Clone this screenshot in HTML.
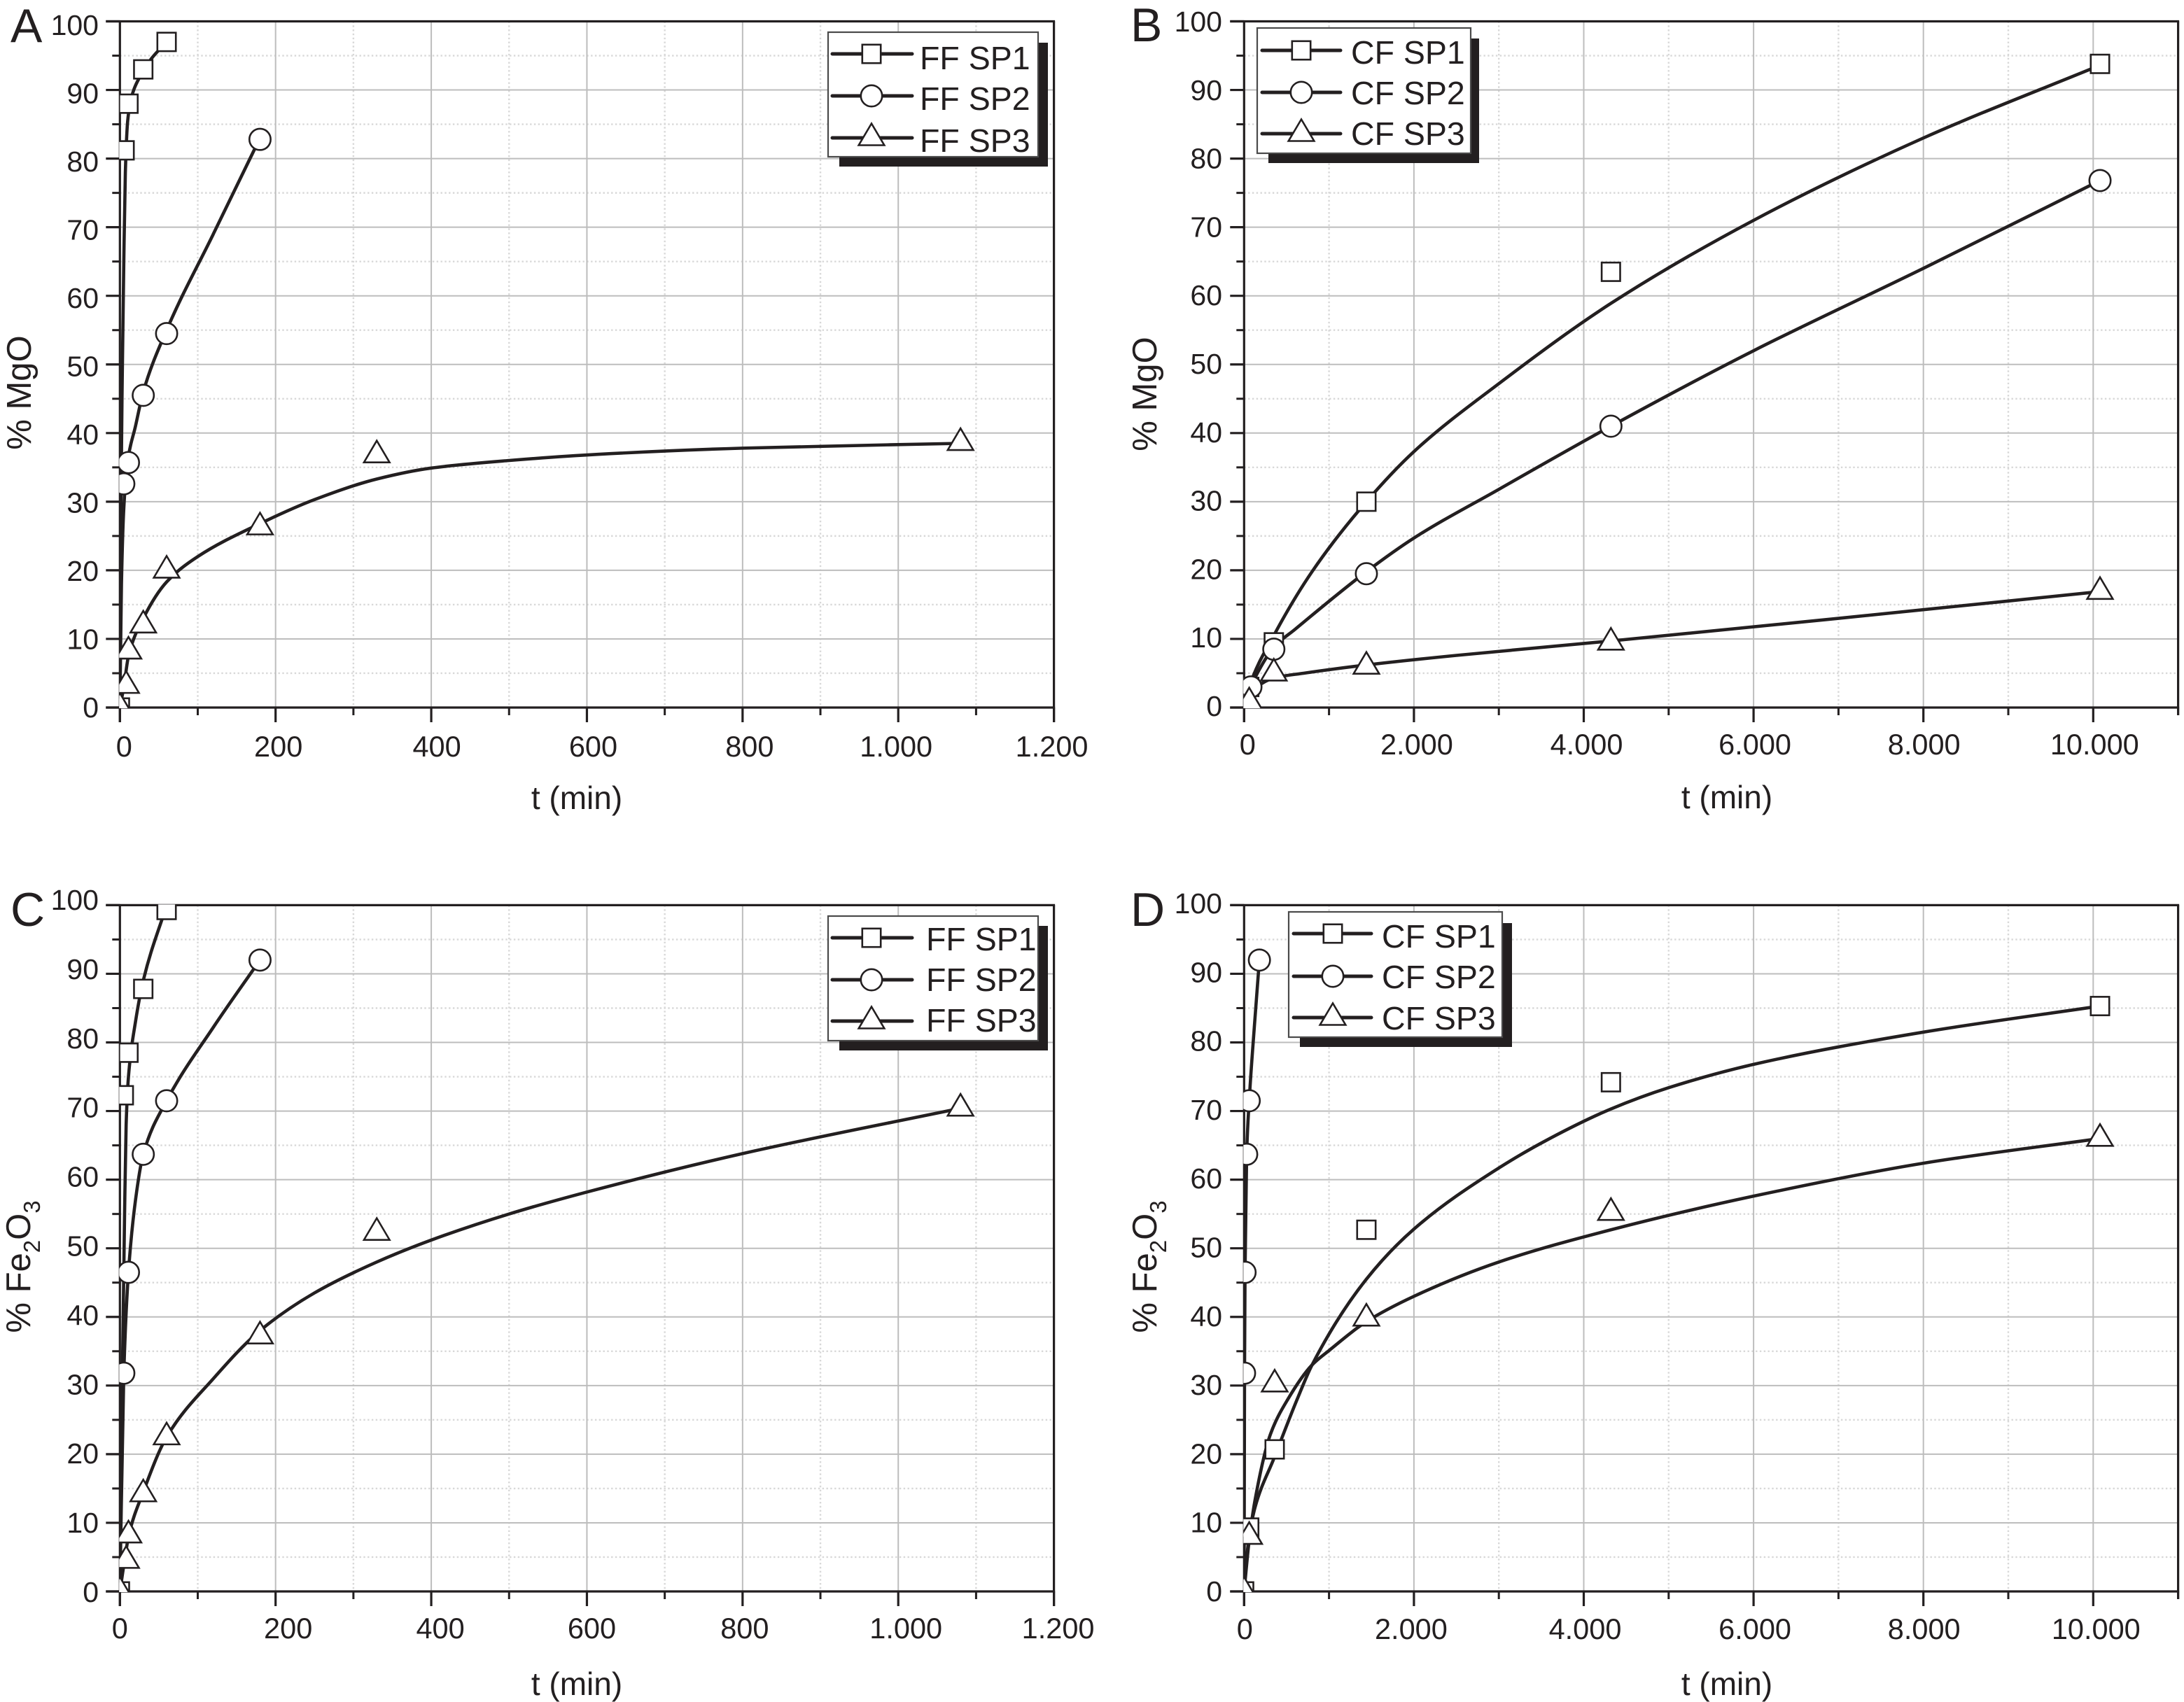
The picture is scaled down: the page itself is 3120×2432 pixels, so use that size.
<!DOCTYPE html>
<html lang="en">
<head>
<meta charset="utf-8">
<title>MgO and Fe2O3 extraction over time</title>
<style>
html,body{margin:0;padding:0;background:#fff;width:3120px;height:2432px;overflow:hidden}
svg{display:block;font-family:"Liberation Sans",Arial,sans-serif}
</style>
</head>
<body>
<svg id="figure" xmlns="http://www.w3.org/2000/svg" width="3120" height="2432" viewBox="0 0 3120 2432"></svg>
<script>
// ---------- shared axis data ----------
const yMajorTicks = [0,10,20,30,40,50,60,70,80,90,100];
const yMinorTicks = [5,15,25,35,45,55,65,75,85,95];
const ffXMajorTicks = [0,200,400,600,800,1000,1200];
const ffXMinorTicks = [100,300,500,700,900,1100];
const ffXTickLabels = ['0','200','400','600','800','1.000','1.200'];
const cfXMajorTicks = [0,2000,4000,6000,8000,10000];
const cfXMinorTicks = [1000,3000,5000,7000,9000,11000];
const cfXTickLabels = ['0','2.000','4.000','6.000','8.000','10.000'];

// ---------- panel A : FF, MgO ----------
const aSp1MarkT = [0,6,11,30,60];
const aSp1MarkY = [0,81.2,88,93,97];
const aSp1FitT = [0,1,3,5,7,10,15,26,40,60];
const aSp1FitY = [0,25,48,65,78,85.5,89,92,94.5,97];
const aSp2MarkT = [5,11,30,60,180];
const aSp2MarkY = [32.6,35.7,45.5,54.5,82.8];
const aSp2FitT = [0,2,5,10,20,30,60,120,180];
const aSp2FitY = [0,18,29,36,41,46,55,69,83];
const aSp3MarkT = [0,8,11,30,60,180,330,1080];
const aSp3MarkY = [0,3.2,8.2,12,20,26.3,36.8,38.6];
const aSp3FitT = [0,5,11,30,60,100,180,250,330,400,500,614,800,1080];
const aSp3FitY = [0,3,7.5,13,18.3,22,26.8,30.3,33.3,34.9,36,36.9,37.8,38.5];

// ---------- panel B : CF, MgO ----------
const bSp1MarkT = [60,350,1440,4320,10080];
const bSp1MarkY = [3,9.5,30,63.5,93.8];
const bSp1FitT = [0,60,350,800,1440,2000,3000,4320,6000,8000,10080];
const bSp1FitY = [0,3,10.5,19.8,30,37.3,47.2,58.9,71,83,93.6];
const bSp2MarkT = [80,350,1440,4320,10080];
const bSp2MarkY = [3,8.5,19.5,41,76.8];
const bSp2FitT = [0,80,200,350,600,1440,2000,3000,4320,6000,8000,10080];
const bSp2FitY = [0,3,6,8.8,11.4,19.8,24.7,31.8,41,52,64,76.8];
const bSp3MarkT = [60,350,1440,4320,10080];
const bSp3MarkY = [0.8,5,6,9.5,16.9];
const bSp3FitT = [0,60,150,350,700,1440,2500,4320,7000,10080];
const bSp3FitY = [0,1.5,3,4.3,5,6.2,7.6,9.7,13,16.9];

// ---------- panel C : FF, Fe2O3 ----------
const cSp1MarkT = [0,5,11,30,60];
const cSp1MarkY = [0,72.3,78.5,87.8,99.3];
const cSp1FitT = [0,3,6,8,11,20,30,60];
const cSp1FitY = [0,30,55,68,75,83,89,100];
const cSp2MarkT = [5,11,30,60,180];
const cSp2MarkY = [31.8,46.5,63.7,71.5,92];
const cSp2FitT = [0,5,11,20,30,60,120,180];
const cSp2FitY = [0,31.8,46.5,57,63.7,71.5,82.2,92];
const cSp3MarkT = [0,8,11,30,60,180,330,1080];
const cSp3MarkY = [0,4.5,8.2,14.2,22.5,37.2,52.3,70.4];
const cSp3FitT = [0,8,11,30,60,120,180,250,330,400,500,600,800,1080];
const cSp3FitY = [0,6,8,14.5,22.5,31,38,43.5,48,51.2,55,58.2,63.8,70.4];

// ---------- panel D : CF, Fe2O3 ----------
const dSp1MarkT = [0,60,360,1440,4320,10080];
const dSp1MarkY = [0,9.3,20.7,52.7,74.2,85.3];
const dSp1FitT = [0,20,60,130,355,625,800,1440,2000,3000,3600,4320,5000,6000,8000,10080];
const dSp1FitY = [0,3.5,8,12.3,19.5,28,33,45.5,52.8,61.7,66,70.3,73.4,76.8,81.5,85.3];
const dSp2MarkT = [5,11,30,60,180];
const dSp2MarkY = [31.8,46.5,63.7,71.5,92];
const dSp2FitT = [0,5,11,30,60,120,180];
const dSp2FitY = [0,31.8,46.5,63.7,71.5,82.2,92];
const dSp3MarkT = [0,60,360,1440,4320,10080];
const dSp3MarkY = [0,8,30.2,39.8,55.2,66];
const dSp3FitT = [0,60,130,310,515,800,1000,1440,2000,3000,4320,6000,8000,10080];
const dSp3FitY = [0,7.5,13.4,22.9,28,33,35.1,39.3,43,48,52.7,57.6,62.4,66];

// ---------- layout ----------
const INK = '#231f20';
const panels = [
 {id:'a',letter:'A',letterX:15,letterY:60,x0:171.3,x1:1505.6,yTop:30.5,yBottom:1011,xMax:1200,
  xMajor:ffXMajorTicks,xMinor:ffXMinorTicks,xLabels:ffXTickLabels,xNudge:[6,4,8,9,10,-3,-3],xLabelY:1081,
  yLabelX:141,yLabelBase:1025,yLabelStep:9.75,lastMajor:true,
  titleX:824,titleY:1156,yTitleX:44,yTitleC:561,yTitle:'mgo',
  sp1:[aSp1MarkT,aSp1MarkY,aSp1FitT,aSp1FitY],sp2:[aSp2MarkT,aSp2MarkY,aSp2FitT,aSp2FitY],sp3:[aSp3MarkT,aSp3MarkY,aSp3FitT,aSp3FitY],
  legend:{x:1183,y:46,w:300,h:178,sx:1199,sy:61,sr:1497,sb:238,lx0:1189,lx1:1303,mx:1245,tx:1314,ly:[77,137,197],ty:[99,157,217],names:['FF SP1','FF SP2','FF SP3']}},
 {id:'b',letter:'B',letterX:1615,letterY:59,x0:1777.3,x1:3111.6,yTop:30.5,yBottom:1011,xMax:11000,
  xMajor:cfXMajorTicks,xMinor:cfXMinorTicks,xLabels:cfXTickLabels,xNudge:[5,4,4,2,1,2],xLabelY:1078,
  yLabelX:1746,yLabelBase:1023,yLabelStep:9.78,lastMajor:false,
  titleX:2467,titleY:1155,yTitleX:1652,yTitleC:563,yTitle:'mgo',
  sp1:[bSp1MarkT,bSp1MarkY,bSp1FitT,bSp1FitY],sp2:[bSp2MarkT,bSp2MarkY,bSp2FitT,bSp2FitY],sp3:[bSp3MarkT,bSp3MarkY,bSp3FitT,bSp3FitY],
  legend:{x:1796,y:40,w:305,h:179,sx:1812,sy:55,sr:2113,sb:233,lx0:1803,lx1:1915,mx:1859,tx:1930,ly:[72,132,191],ty:[91,149,207],names:['CF SP1','CF SP2','CF SP3']}},
 {id:'c',letter:'C',letterX:15,letterY:1323,x0:171.3,x1:1505.6,yTop:1293.4,yBottom:2274,xMax:1200,
  xMajor:ffXMajorTicks,xMinor:ffXMinorTicks,xLabels:ffXTickLabels,xNudge:[0,18,13,7,3,11,6],xLabelY:2341,
  yLabelX:141,yLabelBase:2289,yLabelStep:9.89,lastMajor:true,
  titleX:824,titleY:2422,yTitleX:43,yTitleC:1810,yTitle:'fe',
  sp1:[cSp1MarkT,cSp1MarkY,cSp1FitT,cSp1FitY],sp2:[cSp2MarkT,cSp2MarkY,cSp2FitT,cSp2FitY],sp3:[cSp3MarkT,cSp3MarkY,cSp3FitT,cSp3FitY],
  legend:{x:1183,y:1309,w:300,h:178,sx:1199,sy:1323,sr:1497,sb:1501,lx0:1189,lx1:1303,mx:1245,tx:1323,ly:[1340,1400,1459],ty:[1358,1416,1474],names:['FF SP1','FF SP2','FF SP3']}},
 {id:'d',letter:'D',letterX:1615,letterY:1323,x0:1777.3,x1:3111.6,yTop:1293.4,yBottom:2274,xMax:11000,
  xMajor:cfXMajorTicks,xMinor:cfXMinorTicks,xLabels:cfXTickLabels,xNudge:[1,-4,2,2,1,4],xLabelY:2342,
  yLabelX:1746,yLabelBase:2288,yLabelStep:9.83,lastMajor:false,
  titleX:2467,titleY:2422,yTitleX:1652,yTitleC:1810,yTitle:'fe',
  sp1:[dSp1MarkT,dSp1MarkY,dSp1FitT,dSp1FitY],sp2:[dSp2MarkT,dSp2MarkY,dSp2FitT,dSp2FitY],sp3:[dSp3MarkT,dSp3MarkY,dSp3FitT,dSp3FitY],
  legend:{x:1841,y:1303,w:305,h:179,sx:1857,sy:1319,sr:2160,sb:1496,lx0:1848,lx1:1959,mx:1904,tx:1974,ly:[1334,1395,1454],ty:[1354,1412,1471],names:['CF SP1','CF SP2','CF SP3']}}
];

// ---------- helpers ----------
const NS = 'http://www.w3.org/2000/svg';
function add(parent, tag, attrs, name) {
  const el = document.createElementNS(NS, tag);
  for (const k in attrs) el.setAttribute(k, attrs[k]);
  
  
  parent.appendChild(el);
  return el;
}
function addText(parent, attrs, str, name) {
  const el = add(parent, 'text', Object.assign({fill: INK}, attrs), name);
  el.textContent = str;
  return el;
}
function monotonePath(pts) {
  const n = pts.length;
  const dx = [], dy = [], s = [];
  for (let i = 0; i < n - 1; i++) {
    dx[i] = pts[i+1][0] - pts[i][0];
    dy[i] = pts[i+1][1] - pts[i][1];
    s[i] = dy[i] / Math.max(dx[i], 1e-6);
  }
  const m = [s[0]];
  for (let i = 1; i < n - 1; i++) {
    if (s[i-1] * s[i] <= 0) { m[i] = 0; }
    else {
      const w1 = 2 * dx[i] + dx[i-1], w2 = dx[i] + 2 * dx[i-1];
      m[i] = (w1 + w2) / (w1 / s[i-1] + w2 / s[i]);
    }
  }
  m[n-1] = s[n-2];
  let d = 'M' + pts[0][0].toFixed(2) + ' ' + pts[0][1].toFixed(2);
  for (let i = 0; i < n - 1; i++) {
    const h = dx[i] / 3;
    d += 'C' + (pts[i][0] + h).toFixed(2) + ' ' + (pts[i][1] + m[i] * h).toFixed(2) + ' ' +
         (pts[i+1][0] - h).toFixed(2) + ' ' + (pts[i+1][1] - m[i+1] * h).toFixed(2) + ' ' +
         pts[i+1][0].toFixed(2) + ' ' + pts[i+1][1].toFixed(2);
  }
  return d;
}
function drawMarker(parent, kind, cx, cy, name) {
  const st = {fill:'#fff', stroke:INK, 'stroke-width':2.6};
  if (kind === 0) {
    return add(parent, 'rect', Object.assign({x:cx-13.2, y:cy-13.2, width:26.4, height:26.4}, st), name);
  }
  if (kind === 1) {
    return add(parent, 'circle', Object.assign({cx:cx, cy:cy, r:15.2}, st), name);
  }
  const pts = [[cx, cy-20.5],[cx+18.3, cy+10.5],[cx-18.3, cy+10.5]].map(p => p.join(',')).join(' ');
  return add(parent, 'polygon', Object.assign({points:pts, 'stroke-linejoin':'miter'}, st), name);
}

// ---------- build ----------
const svg = document.getElementById('figure');
const defs = add(svg, 'defs', {}, 'clip-definitions');

panels.forEach(function (p) {
  const g = add(svg, 'g', {}, 'panel-' + p.id);
  const xs = t => p.x0 + (t / p.xMax) * (p.x1 - p.x0);
  const ys = v => p.yBottom - (v / 100) * (p.yBottom - p.yTop);

  const clip = add(defs, 'clipPath', {id:'clip-' + p.id}, 'plot-clip-' + p.id);
  add(clip, 'rect', {x:p.x0 - 1, y:p.yTop - 1, width:p.x1 - p.x0 + 2, height:p.yBottom - p.yTop + 2}, 'plot-clip-rect');

  addText(g, {x:p.letterX, y:p.letterY, 'font-size':68}, p.letter, 'panel-letter');

  // grid
  const grid = add(g, 'g', {}, 'grid');
  p.xMinor.forEach(t => { if (t < p.xMax) add(grid, 'line', {x1:xs(t), x2:xs(t), y1:p.yTop, y2:p.yBottom, stroke:'#d8d8d8', 'stroke-width':2.4, 'stroke-dasharray':'2.4 3.4'}, 'x-minor-gridline'); });
  yMinorTicks.forEach(v => add(grid, 'line', {x1:p.x0, x2:p.x1, y1:ys(v), y2:ys(v), stroke:'#d8d8d8', 'stroke-width':2.4, 'stroke-dasharray':'2.4 3.4'}, 'y-minor-gridline'));
  p.xMajor.forEach(t => { if (t > 0 && t < p.xMax) add(grid, 'line', {x1:xs(t), x2:xs(t), y1:p.yTop, y2:p.yBottom, stroke:'#bdbdbd', 'stroke-width':2}, 'x-major-gridline'); });
  yMajorTicks.forEach(v => { if (v > 0 && v < 100) add(grid, 'line', {x1:p.x0, x2:p.x1, y1:ys(v), y2:ys(v), stroke:'#bdbdbd', 'stroke-width':2}, 'y-major-gridline'); });

  // axes
  const axes = add(g, 'g', {stroke:INK, 'stroke-linecap':'butt'}, 'axes');
  add(axes, 'line', {x1:p.x0, x2:p.x0, y1:p.yTop, y2:p.yBottom + 21, 'stroke-width':3.2}, 'y-axis-line');
  add(axes, 'line', {x1:p.x0 - 20, x2:p.x1 + 1.5, y1:p.yBottom, y2:p.yBottom, 'stroke-width':3.2}, 'x-axis-line');
  add(axes, 'line', {x1:p.x0 - 20, x2:p.x1 + 1.5, y1:p.yTop, y2:p.yTop, 'stroke-width':3.2}, 'top-axis-line');
  add(axes, 'line', {x1:p.x1, x2:p.x1, y1:p.yTop, y2:p.yBottom + (p.lastMajor ? 21 : 11), 'stroke-width':3.2}, 'right-axis-line');
  yMajorTicks.forEach(v => add(axes, 'line', {x1:p.x0 - 20, x2:p.x0, y1:ys(v), y2:ys(v), 'stroke-width':3.2}, 'y-major-tick'));
  yMinorTicks.forEach(v => add(axes, 'line', {x1:p.x0 - 11, x2:p.x0, y1:ys(v), y2:ys(v), 'stroke-width':3}, 'y-minor-tick'));
  p.xMajor.forEach(t => add(axes, 'line', {x1:xs(t), x2:xs(t), y1:p.yBottom, y2:p.yBottom + 21, 'stroke-width':3.2}, 'x-major-tick'));
  p.xMinor.forEach(t => add(axes, 'line', {x1:xs(t), x2:xs(t), y1:p.yBottom, y2:p.yBottom + 11, 'stroke-width':3}, 'x-minor-tick'));

  // tick labels
  yMajorTicks.forEach(v => addText(g, {x:p.yLabelX, y:p.yLabelBase - v * p.yLabelStep, 'font-size':41, 'text-anchor':'end'}, String(v), 'y-tick-label'));
  p.xLabels.forEach((lab, i) => addText(g, {x:xs(p.xMajor[i]) + p.xNudge[i], y:p.xLabelY, 'font-size':41.5, 'text-anchor':'middle'}, lab, 'x-tick-label'));

  // titles
  addText(g, {x:p.titleX, y:p.titleY, 'font-size':46, 'text-anchor':'middle'}, 't (min)', 'x-axis-title');
  const yt = add(g, 'text', {fill:INK, 'font-size':49, 'text-anchor':'middle', transform:'translate(' + p.yTitleX + ' ' + p.yTitleC + ') rotate(-90)'}, 'y-axis-title');
  if (p.yTitle === 'mgo') {
    yt.textContent = '% MgO';
  } else {
    yt.appendChild(document.createTextNode('% Fe'));
    const s2 = add(yt, 'tspan', {dy:14, 'font-size':33}, 'y-title-subscript');
    s2.textContent = '2';
    const o = add(yt, 'tspan', {dy:-14}, 'y-title-oxygen');
    o.textContent = 'O';
    const s3 = add(yt, 'tspan', {dy:14, 'font-size':33}, 'y-title-subscript');
    s3.textContent = '3';
  }

  // series
  const plot = add(g, 'g', {'clip-path':'url(#clip-' + p.id + ')'}, 'plot-area');
  [p.sp1, p.sp2, p.sp3].forEach(function (s, k) {
    const fitPts = s[2].map((t, i) => [xs(t), ys(s[3][i])]);
    add(plot, 'path', {d:monotonePath(fitPts), fill:'none', stroke:INK, 'stroke-width':4.6}, 'fit-line-sp' + (k + 1));
  });
  [p.sp1, p.sp2, p.sp3].forEach(function (s, k) {
    s[0].forEach((t, i) => drawMarker(plot, k, xs(t), ys(s[1][i]), 'marker-sp' + (k + 1)));
  });

  // legend
  const L = p.legend;
  const lg = add(g, 'g', {}, 'legend');
  add(lg, 'rect', {x:L.sx, y:L.sy, width:L.sr - L.sx, height:L.sb - L.sy, fill:INK}, 'legend-shadow');
  add(lg, 'rect', {x:L.x, y:L.y, width:L.w, height:L.h, fill:'#fff', stroke:'#4a4a4a', 'stroke-width':2.2}, 'legend-box');
  L.names.forEach(function (nm, k) {
    const en = add(lg, 'g', {}, 'legend-entry');
    add(en, 'line', {x1:L.lx0, x2:L.lx1, y1:L.ly[k], y2:L.ly[k], stroke:INK, 'stroke-width':5, 'stroke-linecap':'round'}, 'legend-line');
    drawMarker(en, k, L.mx, L.ly[k], 'legend-marker');
    addText(en, {x:L.tx, y:L.ty[k], 'font-size':46.5}, nm, 'legend-label');
  });
});
</script>
</body>
</html>
